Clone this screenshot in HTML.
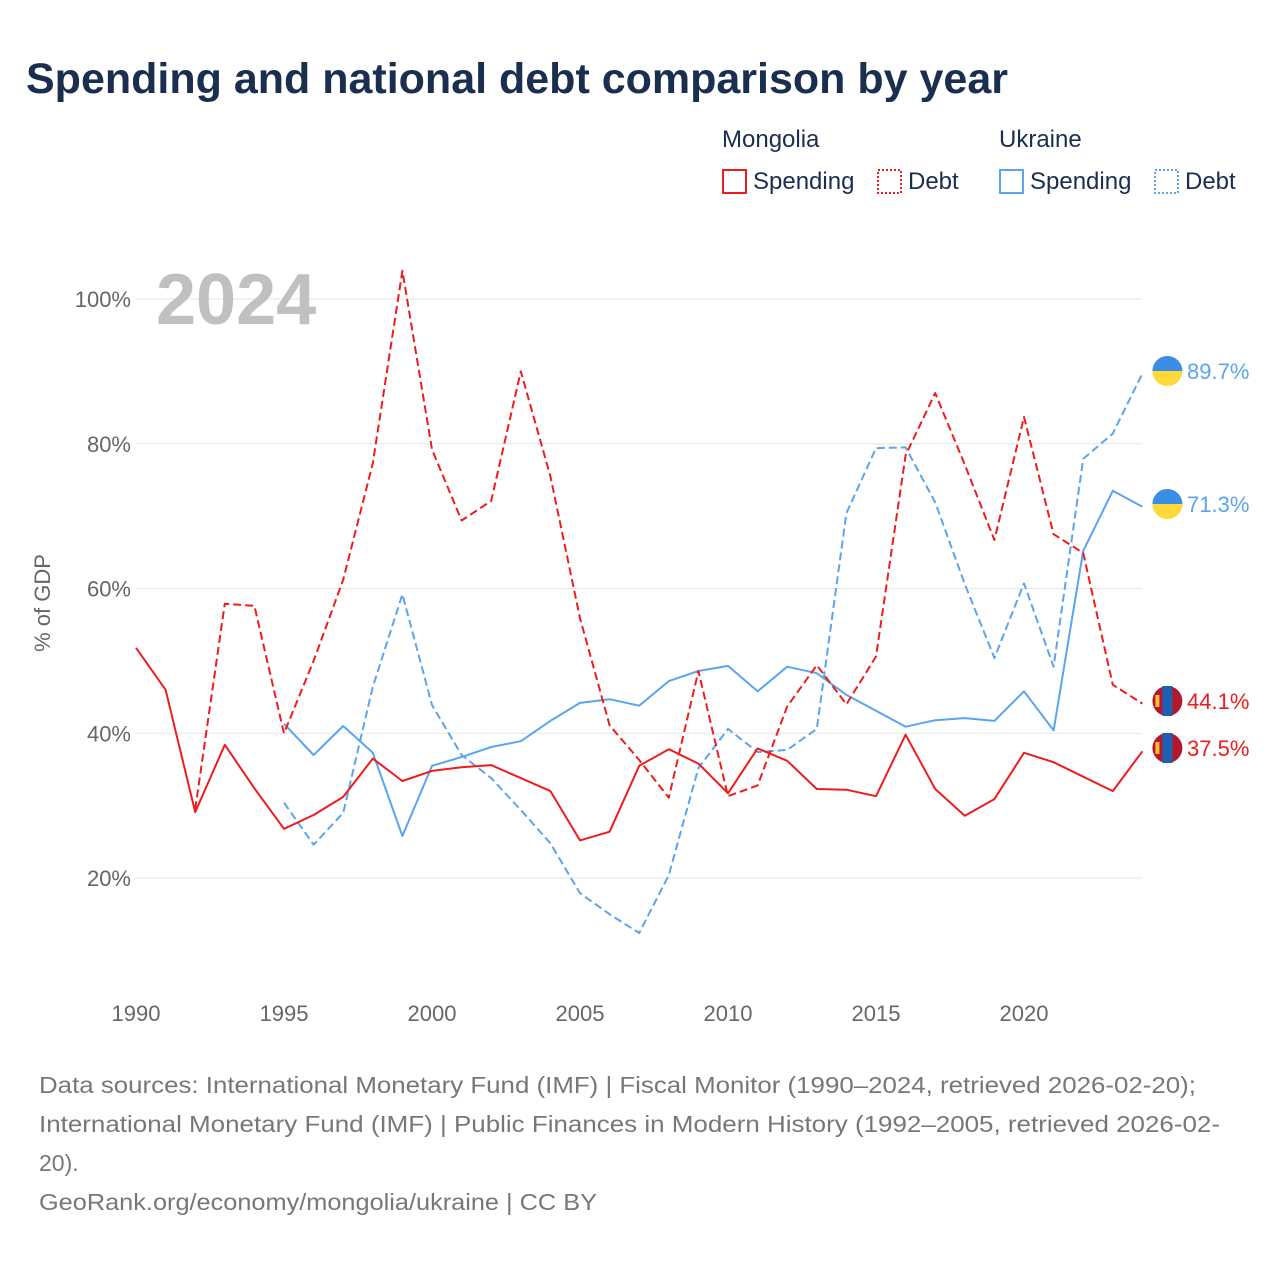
<!DOCTYPE html>
<html><head><meta charset="utf-8">
<style>
body{margin:0;background:#fff;font-family:"Liberation Sans",sans-serif;}
#wrap{position:relative;width:1280px;height:1280px;overflow:hidden;}
</style></head>
<body>
<div id="wrap">
<svg id="chart" width="1280" height="1280" xmlns="http://www.w3.org/2000/svg"></svg>
</div>
<script>
const years = [];
for (let y = 1990; y <= 2024; y++) years.push(y);
const mongoliaSpending = [51.8,46.0,29.1,38.4,32.4,26.8,28.7,31.2,36.5,33.4,34.8,35.3,35.6,33.8,32.0,25.2,26.4,35.5,37.8,35.8,31.7,37.9,36.2,32.3,32.2,31.3,39.8,32.3,28.6,30.9,37.3,36.0,34.0,32.0,37.5];
const mongoliaDebt = [null,null,29.5,57.9,57.6,40.0,50.0,61.2,77.3,103.9,79.2,69.4,72.1,90.0,75.5,55.9,41.1,36.3,31.1,48.6,31.3,32.8,43.7,49.4,44.0,50.6,78.4,87.0,77.1,66.7,83.7,67.5,64.9,46.7,44.1];
const ukraineSpending = [null,null,null,null,null,41.3,37.0,41.0,37.3,25.8,35.5,36.7,38.1,38.9,41.7,44.2,44.7,43.8,47.2,48.6,49.3,45.8,49.2,48.3,45.3,43.1,40.9,41.8,42.1,41.7,45.8,40.4,65.2,73.5,71.3];
const ukraineDebt = [null,null,null,null,null,30.4,24.6,29.0,46.4,59.2,43.9,37.0,33.8,29.4,24.8,17.9,15.0,12.4,20.4,35.2,40.6,37.4,37.7,40.6,70.4,79.4,79.5,71.9,60.6,50.4,60.7,49.2,77.9,81.4,89.7];
const yTicks = [20,40,60,80,100];
const xTicks = [1990,1995,2000,2005,2010,2015,2020];

const NS = "http://www.w3.org/2000/svg";
const svg = document.getElementById('chart');
function xs(yr){ return 136 + (yr-1990)*29.6; }
function ys(v){ return 1022.75 - v*7.2375; }
function el(tag, attrs, parent){
  const e = document.createElementNS(NS, tag);
  for (const k in attrs) e.setAttribute(k, attrs[k]);
  (parent||svg).appendChild(e);
  return e;
}
function txt(s, attrs){ const t = el('text', attrs); t.textContent = s; return t; }

let t = txt('Spending and national debt comparison by year', {x:26,y:93,'font-size':43,'font-weight':'bold',fill:'#1a2e4f'});



const RED='#ee1c1c', BLUE='#5aa5ec';
t = txt('Mongolia',{x:722,y:147,'font-size':24,fill:'#1a2e4f'});


t = txt('Ukraine',{x:999,y:147,'font-size':24,fill:'#1a2e4f'});


const legend = [
  {x:722,c:RED,dash:null,label:'Spending',name:'legend-mongolia-spending'},
  {x:877,c:RED,dash:'2,2',label:'Debt',name:'legend-mongolia-debt'},
  {x:999,c:BLUE,dash:null,label:'Spending',name:'legend-ukraine-spending'},
  {x:1154,c:BLUE,dash:'2,2',label:'Debt',name:'legend-ukraine-debt'}
];
legend.forEach(l=>{
  const g = el('g',{});
  
  
  const r = el('rect',{x:l.x+1,y:170,width:23,height:23,fill:'none',stroke:l.c,'stroke-width':2},g);
  if (l.dash) r.setAttribute('stroke-dasharray', l.dash);
  const tt = document.createElementNS(NS,'text');
  tt.setAttribute('x', l.x+31); tt.setAttribute('y',189); tt.setAttribute('font-size',24); tt.setAttribute('fill','#1a2e4f');
  tt.textContent = l.label; g.appendChild(tt);
});

yTicks.forEach(v=>{
  const ln = el('line',{x1:136,x2:1142,y1:ys(v),y2:ys(v),stroke:'#e6e6e6','stroke-width':1});
  
  
  const lb = txt(v+'%',{x:131,y:ys(v)+8,'font-size':22,fill:'#666','text-anchor':'end'});
  
  
});
xTicks.forEach(yr=>{
  const lb = txt(String(yr),{x:xs(yr),y:1021,'font-size':22,fill:'#666','text-anchor':'middle'});
  
  
});
t = txt('% of GDP',{x:0,y:0,'font-size':22,fill:'#666','text-anchor':'middle',transform:'translate(50,603) rotate(-90)'});



t = txt('2024',{x:156,y:324,'font-size':72,'font-weight':'bold',fill:'#c0c0c0'});



function series(data, color, dash, name){
  let d='', started=false;
  data.forEach((v,i)=>{
    if (v===null){ started=false; return; }
    d += (started?'L':'M') + xs(years[i]).toFixed(1)+','+ys(v).toFixed(1)+' ';
    started=true;
  });
  const p = el('path',{d:d,fill:'none',stroke:color,'stroke-width':2,'stroke-linejoin':'round'});
  if (dash) p.setAttribute('stroke-dasharray',dash);
  
  
}
series(ukraineDebt, BLUE, '8,4', 'line-ukraine-debt');
series(ukraineSpending, BLUE, null, 'line-ukraine-spending');
series(mongoliaDebt, RED, '8,4', 'line-mongolia-debt');
series(mongoliaSpending, RED, null, 'line-mongolia-spending');

function flagUA(cx,cy,name){
  const g = el('g',{});
  
  
  el('path',{d:`M${cx-15},${cy} A15,15 0 0 1 ${cx+15},${cy} Z`,fill:'#3a8ee6'},g);
  el('path',{d:`M${cx-15},${cy} A15,15 0 0 0 ${cx+15},${cy} Z`,fill:'#ffd83a'},g);
}
function flagMN(cx,cy,name){
  const g = el('g',{});
  
  
  el('circle',{cx:cx,cy:cy,r:15,fill:'#b5182e'},g);
  el('rect',{x:cx-5,y:cy-15,width:10,height:30,fill:'#1d5fb0'},g);
  el('rect',{x:cx-12,y:cy-6,width:4,height:12,fill:'#f2c230'},g);
}
const lastX = xs(2024);
const ends = [
  {v:ukraineDebt[34],c:BLUE,f:flagUA,name:'ukraine-debt',ly:371},
  {v:ukraineSpending[34],c:BLUE,f:flagUA,name:'ukraine-spending',ly:504},
  {v:mongoliaDebt[34],c:RED,f:flagMN,name:'mongolia-debt',ly:701},
  {v:mongoliaSpending[34],c:RED,f:flagMN,name:'mongolia-spending',ly:748}
];
ends.forEach(e=>{
  e.f(lastX+25, e.ly, 'flag-'+e.name);
  const lb = txt(e.v.toFixed(1)+'%',{x:1187,y:e.ly+8,'font-size':22,fill:e.c});
  
  
});

const src = ['Data sources: International Monetary Fund (IMF) | Fiscal Monitor (1990–2024, retrieved 2026-02-20);',
 'International Monetary Fund (IMF) | Public Finances in Modern History (1992–2005, retrieved 2026-02-',
 '20).',
 'GeoRank.org/economy/mongolia/ukraine | CC BY'];
const srcLen = [1157, 1181, 0, 558];
src.forEach((s,i)=>{
  const lb = txt(s,{x:39,y:1093+i*39,'font-size':23,fill:'#777'});
  if (srcLen[i]) { lb.setAttribute('textLength', srcLen[i]); lb.setAttribute('lengthAdjust','spacingAndGlyphs'); }
  
  
});
</script>
</body></html>
